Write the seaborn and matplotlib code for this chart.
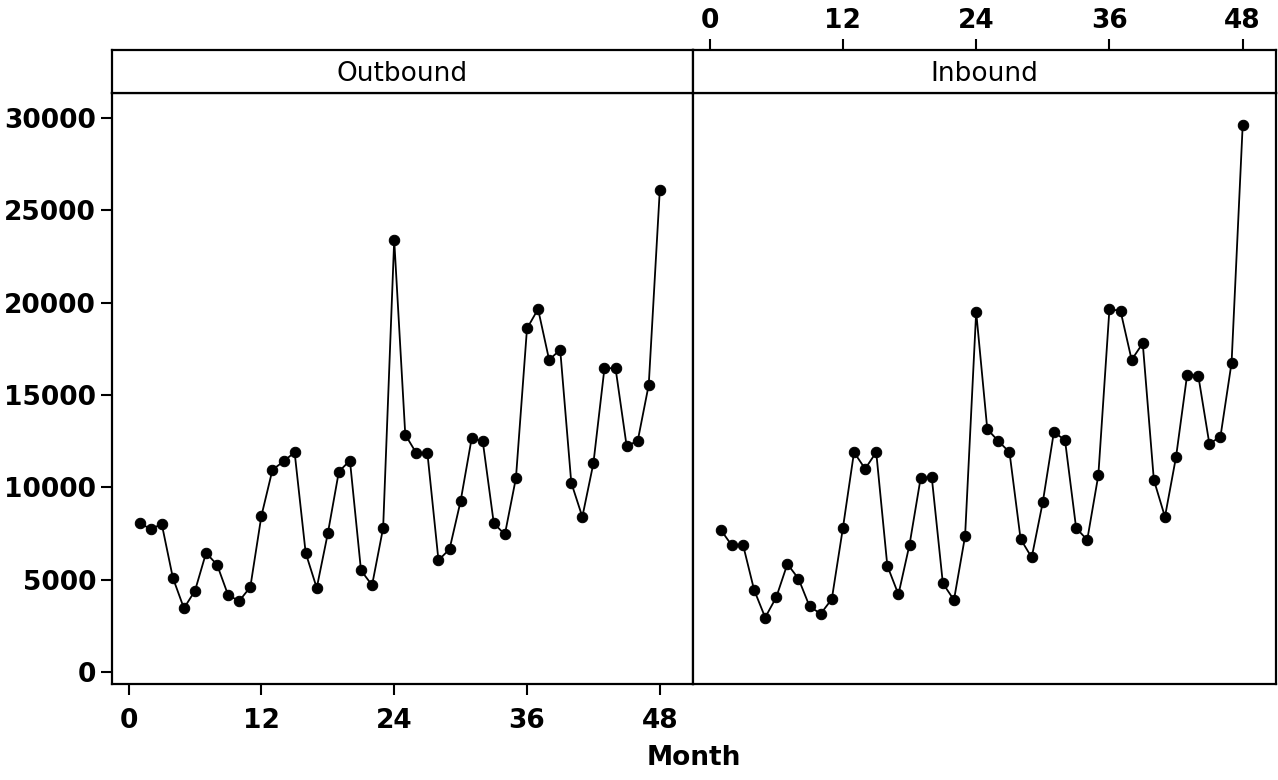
import pandas as pd
import matplotlib
matplotlib.use("Agg")
import matplotlib.pyplot as plt
import seaborn as sns

# monthly call counts
months = list(range(1, 49))
outbound = [8050, 7750, 8000, 5100, 3450, 4400, 6450, 5800, 4150, 3850, 4600, 8450,
            10950, 11400, 11900, 6450, 4550, 7500, 10850, 11450, 5500, 4700, 7800, 23400,
            12850, 11850, 11850, 6050, 6650, 9250, 12650, 12500, 8050, 7450, 10500, 18600,
            19650, 16900, 17450, 10250, 8400, 11300, 16450, 16450, 12250, 12500, 15550, 26100]
inbound = [7700, 6850, 6900, 4450, 2950, 4050, 5850, 5050, 3550, 3150, 3950, 7800,
           11900, 11000, 11900, 5750, 4200, 6900, 10500, 10550, 4800, 3900, 7350, 19500,
           13150, 12500, 11900, 7200, 6200, 9200, 13000, 12550, 7800, 7150, 10650, 19650,
           19550, 16900, 17800, 10400, 8400, 11650, 16100, 16050, 12350, 12750, 16750, 29600]
panels = ["Outbound", "Inbound"]
x_ticks = [0, 12, 24, 36, 48]
y_ticks = [0, 5000, 10000, 15000, 20000, 25000, 30000]

df = pd.concat([
    pd.DataFrame({"Month": months, "Count": outbound, "Direction": "Outbound"}),
    pd.DataFrame({"Month": months, "Count": inbound, "Direction": "Inbound"}),
])

sns.set_style("white")
plt.rcParams["font.family"] = ["DejaVu Sans"]
plt.rcParams["text.color"] = "black"
plt.rcParams["xtick.color"] = "black"
plt.rcParams["ytick.color"] = "black"

W, H = 1278, 780
fig = plt.figure(figsize=(W / 100, H / 100), dpi=100)

left1, mid, right2 = 112 / W, 693 / W, 1276 / W
bottom, top, strip_top = 1 - 684 / H, 1 - 93 / H, 1 - 50 / H

ax1 = fig.add_axes([left1, bottom, mid - left1, top - bottom])
ax2 = fig.add_axes([mid, bottom, right2 - mid, top - bottom], sharey=ax1)
s1 = fig.add_axes([left1, top, mid - left1, strip_top - top])
s2 = fig.add_axes([mid, top, right2 - mid, strip_top - top])

for ax, strip, name in zip([ax1, ax2], [s1, s2], panels):
    sns.lineplot(data=df[df["Direction"] == name], x="Month", y="Count", ax=ax,
                 color="black", linewidth=1.3, marker="o", markersize=7.5,
                 markeredgecolor="black")
    ax.set_xlim(-1.5, 51)
    ax.set_ylim(-650, 31350)
    ax.set_xlabel("")
    ax.set_ylabel("")
    strip.set_xlim(-1.5, 51)
    strip.set_yticks([])
    strip.text(0.5, 0.45, name, transform=strip.transAxes, ha="center", va="center",
               fontsize=19, color="black")
    for a in (ax, strip):
        for sp in a.spines.values():
            sp.set_color("black")
            sp.set_linewidth(1.6)

# outbound: ticks on left and bottom
ax1.set_yticks(y_ticks)
ax1.set_xticks(x_ticks)
ax1.tick_params(axis="both", direction="out", length=8, width=1.5, color="black",
                labelsize=19, bottom=True, left=True, labelcolor="black")
ax1.tick_params(axis="x", pad=9)
for lab in ax1.get_xticklabels() + ax1.get_yticklabels():
    lab.set_fontweight("bold")

# inbound: no y ticks, x ticks on top of the strip
ax2.tick_params(left=False, labelleft=False, bottom=False, labelbottom=False)
s1.set_xticks([])
s2.set_xticks(x_ticks)
s2.xaxis.tick_top()
s2.tick_params(axis="x", direction="out", length=8, width=1.5, color="black",
               labelsize=19, top=True, labelcolor="black")
for lab in s2.get_xticklabels():
    lab.set_fontweight("bold")

fig.text((left1 + right2) / 2, 0.012, "Month", ha="center", va="bottom",
         fontsize=19, fontweight="bold")

fig.savefig("out.png", dpi=100)
